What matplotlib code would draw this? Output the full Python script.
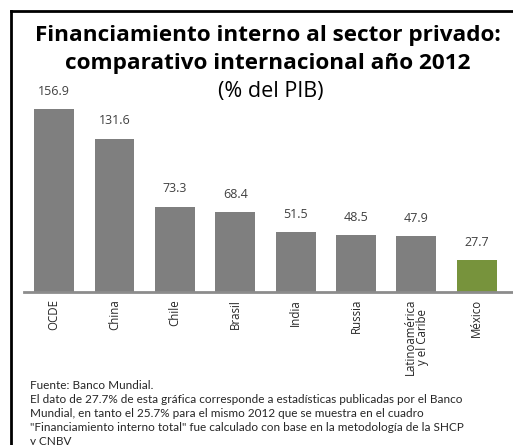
import matplotlib
matplotlib.use("Agg")
import matplotlib.pyplot as plt
from matplotlib.lines import Line2D

categories = ["OCDE", "China", "Chile", "Brasil", "India", "Russia",
              "Latinoamérica\ny el Caribe", "México"]
values = [156.9, 131.6, 73.3, 68.4, 51.5, 48.5, 47.9, 27.7]
value_labels = ["156.9", "131.6", "73.3", "68.4", "51.5", "48.5", "47.9", "27.7"]
colors = ["#7f7f7f"] * 7 + ["#77933c"]

title_lines = ["Financiamiento interno al sector privado:",
               "comparativo internacional año 2012"]
subtitle = "(% del PIB)"
footnote = ("Fuente: Banco Mundial.\n"
            "El dato de 27.7% de esta gráfica corresponde a estadísticas publicadas por el Banco\n"
            "Mundial, en tanto el 25.7% para el mismo 2012 que se muestra en el cuadro\n"
            "\"Financiamiento interno total\" fue calculado con base en la metodología de la SHCP\n"
            "y CNBV")

plt.rcParams['font.family'] = ['Open Sans', 'DejaVu Sans']

W, H = 513, 445
fig = plt.figure(figsize=(W / 100, H / 100), dpi=100)
fig.patch.set_facecolor("white")

ax = fig.add_axes([24 / W, (H - 292) / H, (513 - 24) / W, (292 - 100) / H])
x = list(range(len(categories)))
ax.bar(x, values, width=0.66, color=colors, zorder=2)
ax.set_xlim(-0.5, 7.6)
ax.set_ylim(0, 192 / 1.166)
for xi, v, lab in zip(x, values, value_labels):
    ax.annotate(lab, (xi, v), xytext=(0, 8), textcoords="offset points",
                ha="center", va="bottom", fontsize=9, color="#404040",
                annotation_clip=False)
for s in ["top", "right", "left"]:
    ax.spines[s].set_visible(False)
ax.spines["bottom"].set_color("#8c8c8c")
ax.spines["bottom"].set_linewidth(2)
ax.set_yticks([])
ax.set_xticks(x)
ax.set_xticklabels(categories, rotation=90, fontsize=8.3, color="#262626",
                   multialignment="center", linespacing=1.0)
ax.tick_params(axis="x", length=0, pad=5)
ax.patch.set_visible(False)

for yy, line in zip([35, 63], title_lines):
    fig.text(268 / W, 1 - yy / H, line, ha="center", va="center", fontsize=16.2,
             fontweight="bold", color="black")
fig.text(271 / W, 1 - 91 / H, subtitle, ha="center", va="center", fontsize=15.5,
         color="black")
fig.text(30 / W, 1 - 380 / H, footnote, ha="left", va="top", fontsize=8.5,
         color="#262626", linespacing=1.32, family=["Lato", "DejaVu Sans"])

# frame lines
fig.add_artist(Line2D([11 / W, 11 / W], [0, 1 - 11 / H], transform=fig.transFigure,
                      color="black", lw=2))
fig.add_artist(Line2D([11 / W, 1], [1 - 11 / H, 1 - 11 / H], transform=fig.transFigure,
                      color="black", lw=2))

fig.savefig("out.png", dpi=100)
